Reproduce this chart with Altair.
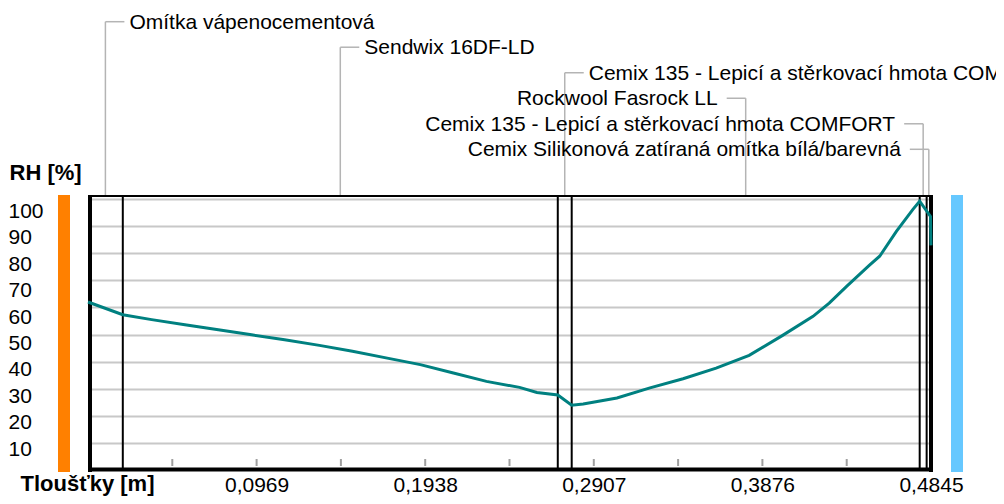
import altair as alt
import pandas as pd
import numpy as np

# ---- data ----
layer_names = [
    "Omítka vápenocementová",
    "Sendwix 16DF-LD",
    "Cemix 135 - Lepicí a stěrkovací hmota COMFORT",
    "Rockwool Fasrock LL",
    "Cemix 135 - Lepicí a stěrkovací hmota COMFORT",
    "Cemix Silikonová zatíraná omítka bílá/barevná",
]
layer_thickness = [0.02, 0.25, 0.008, 0.2, 0.004, 0.0025]
label_level = [0, 1, 2, 3, 4, 5]
label_side = ["R", "R", "R", "L", "L", "L"]

pos_m = [0.0, 0.02, 0.0366, 0.0557, 0.0749, 0.094, 0.113, 0.133, 0.152, 0.172,
         0.191, 0.210, 0.229, 0.248, 0.258, 0.27, 0.278, 0.2846, 0.304,
         0.323, 0.342, 0.361, 0.380, 0.399, 0.4167, 0.426, 0.436, 0.449, 0.455,
         0.4646, 0.474, 0.478, 0.4842, 0.4845]
rh_pct = [62.0, 57.3, 55.5, 53.6, 51.8, 49.9, 48.1, 46.0, 43.8, 41.3,
          38.9, 35.8, 32.7, 30.5, 28.6, 27.7, 23.9, 24.4, 26.6,
          30.3, 33.7, 37.6, 42.3, 49.6, 56.7, 61.6, 67.8, 75.5, 78.9,
          88.1, 96.1, 99.2, 93.6, 82.9]

x_label_values = [0.0969, 0.1938, 0.2907, 0.3876, 0.4845]
x_minor_ticks = [0.04845, 0.0969, 0.14535, 0.1938, 0.24225, 0.2907, 0.33915, 0.3876, 0.43605]
y_ticks = [10, 20, 30, 40, 50, 60, 70, 80, 90, 100]

# ---- frames ----
edges = np.cumsum(layer_thickness)
starts = np.concatenate([[0.0], edges[:-1]])
mids = (starts + edges) / 2
layers_df = pd.DataFrame({"name": layer_names, "mid": mids, "level": label_level, "side": label_side})
bounds_df = pd.DataFrame({"b": edges[:-1]})
profile_df = pd.DataFrame({"pos": pos_m, "rh": rh_pct})
minor_df = pd.DataFrame({"t": x_minor_ticks})
one = pd.DataFrame({"a": [0]})

W, H = 843, 275
FONT = "Liberation Sans"
x_scale = alt.Scale(domain=[0, 0.4845], nice=False, zero=False)
y_scale = alt.Scale(domain=[0, 101.5], nice=False, zero=False)
lvl_scale = alt.Scale(domain=[0, 5], range=[-173.3, -45.7], nice=False, zero=False)
LEADER = "#B4B4B4"

bars = alt.Chart(one).mark_rect(color="#FF8000").encode(
    x=alt.value(-30), x2=alt.value(-18), y=alt.value(0), y2=alt.value(277))
bars_r = alt.Chart(one).mark_rect(color="#66C8FF").encode(
    x=alt.value(W + 20), x2=alt.value(W + 32), y=alt.value(0), y2=alt.value(277))

line = alt.Chart(profile_df).mark_line(color="#008080", strokeWidth=3).encode(
    x=alt.X("pos:Q", scale=x_scale, axis=alt.Axis(
        values=x_label_values,
        labelExpr="replace(format(datum.value, '.4f'), '.', ',')",
        ticks=False, domain=False, grid=False, labelFlush=False, labelOverlap=False,
        labelFont=FONT, labelFontSize=21, labelColor="black", labelPadding=4,
        title="Tloušťky [m]", titleFont=FONT, titleFontSize=22, titleFontWeight="bold",
        titleColor="black", titleX=-68, titleY=20, titleAlign="left",
        titleBaseline="alphabetic", titleAnchor="start")),
    y=alt.Y("rh:Q", scale=y_scale, axis=alt.Axis(
        values=y_ticks, grid=True, gridColor="#C8C8C8", gridWidth=2,
        ticks=False, tickSize=0, domain=False, labelAlign="left", labelPadding=80,
        labelBaseline="middle", labelOffset={"expr": "5.5 + 0.07*datum.value"},
        labelFont=FONT, labelFontSize=21, labelColor="black", labelOverlap=False,
        labelFlush=False,
        title="RH [%]", titleAngle=0, titleX=-79, titleY=-16, titleAlign="left",
        titleBaseline="alphabetic", titleFont=FONT, titleFontSize=22,
        titleFontWeight="bold", titleColor="black")),
)

minor = alt.Chart(minor_df).mark_rule(color="#A0A0A0", strokeWidth=2).encode(
    x=alt.X("t:Q", scale=x_scale), y=alt.value(264), y2=alt.value(271))

bounds = alt.Chart(bounds_df).mark_rule(color="black", strokeWidth=2).encode(
    x=alt.X("b:Q", scale=x_scale), y=alt.value(0), y2=alt.value(H))

frame_l = alt.Chart(one).mark_rule(color="black", strokeWidth=4).encode(
    x=alt.value(2), y=alt.value(0), y2=alt.value(277))
frame_r = alt.Chart(one).mark_rule(color="black", strokeWidth=4).encode(
    x=alt.value(W), y=alt.value(0), y2=alt.value(277))
frame_b = alt.Chart(one).mark_rule(color="black", strokeWidth=4).encode(
    x=alt.value(0), x2=alt.value(W + 2), y=alt.value(274.5))
frame_t = alt.Chart(one).mark_rule(color="black", strokeWidth=2).encode(
    x=alt.value(0), x2=alt.value(W + 2), y=alt.value(1))

def label_group(side):
    d = alt.Chart(layers_df).transform_filter(alt.datum.side == side)
    sign = 1 if side == "R" else -1
    vert = d.mark_rule(color=LEADER, strokeWidth=1.5).encode(
        x=alt.X("mid:Q", scale=x_scale),
        y=alt.Y("level:Q", scale=lvl_scale, axis=None), y2=alt.value(0))
    horiz = d.mark_rule(color=LEADER, strokeWidth=1.5, x2Offset=sign * 19).encode(
        x=alt.X("mid:Q", scale=x_scale), x2="mid:Q",
        y=alt.Y("level:Q", scale=lvl_scale, axis=None))
    txt = d.mark_text(align="left" if side == "R" else "right", baseline="middle",
                      dx=24 if side == "R" else -28, dy=1, font=FONT,
                      fontSize=21, color="black").encode(
        x=alt.X("mid:Q", scale=x_scale),
        y=alt.Y("level:Q", scale=lvl_scale, axis=None), text="name:N")
    return [vert, horiz, txt]

chart = alt.layer(
    bars, bars_r, minor, bounds, frame_l, frame_r, frame_b, frame_t, line,
    *label_group("R"), *label_group("L")
).resolve_scale(y="independent").properties(
    width=W, height=H,
    autosize=alt.AutoSizeParams(type="none"),
    padding={"left": 80, "top": 187, "right": 65, "bottom": 26},
    background="white",
).configure_view(stroke=None)

chart.save("out.html", embed_options={"renderer": "svg", "actions": False})
